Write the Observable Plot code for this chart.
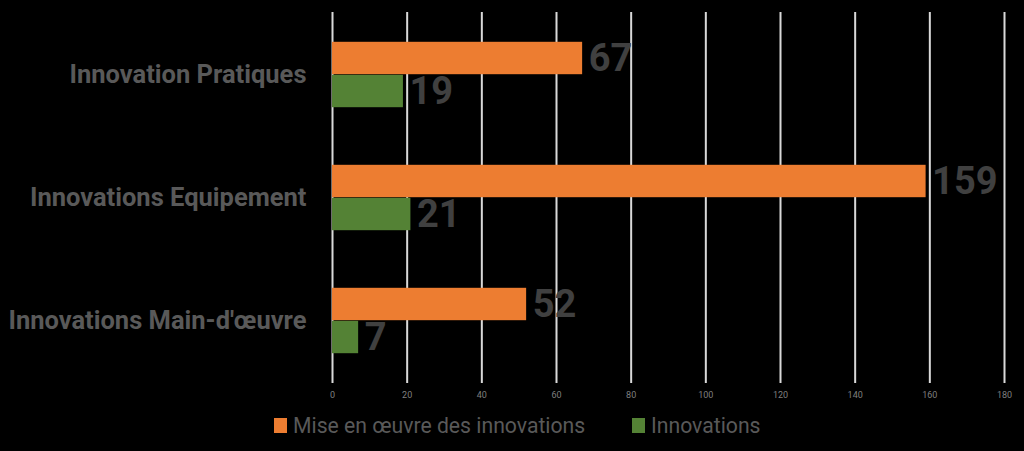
<!DOCTYPE html>
<html>
<head>
<meta charset="utf-8">
<script src="https://cdn.jsdelivr.net/npm/d3@7"></script>
<script src="https://cdn.jsdelivr.net/npm/@observablehq/plot@0.6"></script>
<style>
  html, body { margin: 0; padding: 0; background: #000; }
  #wrap { width: 1024px; height: 451px; background: #000; position: relative; overflow: hidden; }
  #legend { position: absolute; left: 0; top: 405px; width: 1024px; height: 46px; font-family: Roboto, sans-serif; font-size: 21.2px; color: #595959; }
  .item { position: absolute; top: 8px; display: flex; align-items: center; white-space: nowrap; }
  .sw { width: 13px; height: 15px; margin-right: 6px; }
</style>
</head>
<body>
<div id="wrap"><div id="chart"></div><div id="legend"></div></div>
<script>
const categories = ["Innovation Pratiques", "Innovations Equipement", "Innovations Main-d'œuvre"];
const seriesNames = ["Mise en œuvre des innovations", "Innovations"];
const miseValues = [67, 159, 52];
const innovValues = [19, 21, 7];
const xTicks = [0, 20, 40, 60, 80, 100, 120, 140, 160, 180];
const seriesColors = ["#ED7D31", "#548235"];

const mise = categories.map((c, i) => ({category: c, value: miseValues[i]}));
const innov = categories.map((c, i) => ({category: c, value: innovValues[i]}));

const font = "Roboto, sans-serif";
const labelStyle = {fontFamily: font, fontWeight: "bold", fontSize: 38, fill: "#404040", textAnchor: "start", dx: 6, letterSpacing: -0.5};

const chart = Plot.plot({
  width: 1024,
  height: 405,
  marginLeft: 332,
  marginRight: 20,
  marginTop: 12,
  marginBottom: 22,
  style: {background: "#000", fontFamily: font},
  x: {domain: [0, 180]},
  y: {domain: categories, padding: 0},
  marks: [
    Plot.ruleX(xTicks, {stroke: "#d9d9d9", strokeWidth: 2}),
    Plot.barX(mise, {x: "value", y: "category", fill: seriesColors[0], insetTop: 28.8, insetBottom: 61.8}),
    Plot.barX(innov, {x: "value", y: "category", fill: seriesColors[1], insetTop: 61.8, insetBottom: 28.8}),
    Plot.text(mise, {x: "value", y: "category", text: d => String(d.value), dy: -16.5, ...labelStyle}),
    Plot.text(innov, {x: "value", y: "category", text: d => String(d.value), dy: 16.5, ...labelStyle}),
    Plot.axisX({ticks: xTicks, tickSize: 0, tickPadding: 8, fontSize: 9, color: "#7f7f7f", label: null}),
    Plot.axisY({tickSize: 0, tickPadding: 26, fontSize: 25.5, fontWeight: "bold", color: "#595959", label: null})
  ]
});
document.getElementById("chart").appendChild(chart);

const legend = document.getElementById("legend");
const lefts = [274, 632];
seriesNames.forEach((name, i) => {
  const it = document.createElement("div");
  it.className = "item";
  it.style.left = lefts[i] + "px";
  it.innerHTML = `<span class="sw" style="background:${seriesColors[i]}"></span><span>${name}</span>`;
  legend.appendChild(it);
});
</script>
</body>
</html>
